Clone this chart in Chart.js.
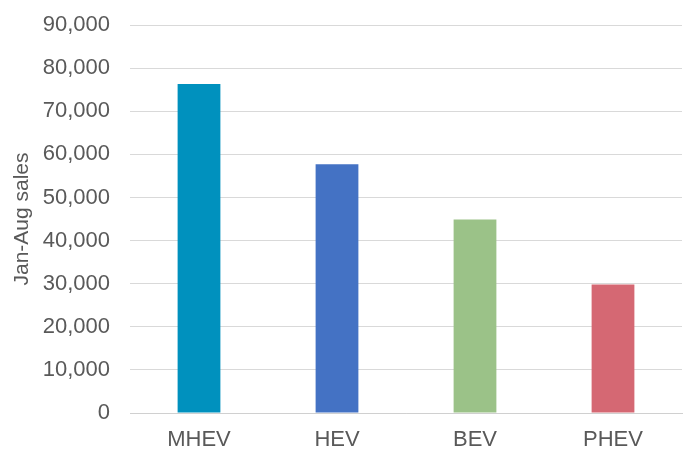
<!DOCTYPE html>
<html lang="en">
<head>
  <meta charset="UTF-8" />
  <title>Jan-Aug sales by powertrain</title>
  <script src="https://cdn.jsdelivr.net/npm/chart.js"></script>
  <style>
    html, body { margin: 0; padding: 0; background: #fff; }
    #wrap { width: 692px; height: 450px; }
  </style>
</head>
<body>
  <div id="wrap"><canvas id="salesChart"></canvas></div>
  <script>
    const categories = ['MHEV', 'HEV', 'BEV', 'PHEV'];
    const sales = [76300, 57700, 44900, 29800];
    const barColors = ['#0091BE', '#4472C4', '#9BC288', '#D56873'];
    const yTitle = 'Jan-Aug sales';

    const grey = '#595959';
    const font = 'Liberation Sans, Arial, sans-serif';

    const ctx = document.getElementById('salesChart').getContext('2d');
    new Chart(ctx, {
      type: 'bar',
      data: {
        labels: categories,
        datasets: [{
          data: sales,
          backgroundColor: barColors,
          borderWidth: 0,
          categoryPercentage: 1,
          barPercentage: 0.31
        }]
      },
      options: {
        responsive: true,
        maintainAspectRatio: false,
        animation: false,
        layout: { padding: { left: 10, right: 10, top: 25, bottom: 0 } },
        plugins: {
          legend: { display: false },
          tooltip: { enabled: false }
        },
        scales: {
          x: {
            grid: { display: false, drawTicks: false },
            border: { color: '#d0d0d0', width: 1 },
            ticks: { color: grey, font: { family: font, size: 22 }, padding: 14 },
            afterFit: (axis) => { axis.height = 37; }
          },
          y: {
            min: 0,
            max: 90000,
            grid: { color: '#d9d9d9', lineWidth: 1, drawTicks: false },
            border: { display: false },
            ticks: {
              stepSize: 10000,
              color: grey,
              padding: 20,
              font: { family: font, size: 22 },
              callback: (v) => v.toLocaleString('en-US')
            },
            title: {
              display: true,
              text: yTitle,
              color: grey,
              font: { family: font, size: 21 },
              padding: { top: 0, bottom: 0 }
            },
            afterFit: (axis) => {
              axis.width = 120;
              axis.paddingTop = 0;
              axis.paddingBottom = 0;
            }
          }
        }
      }
    });
  </script>
</body>
</html>
